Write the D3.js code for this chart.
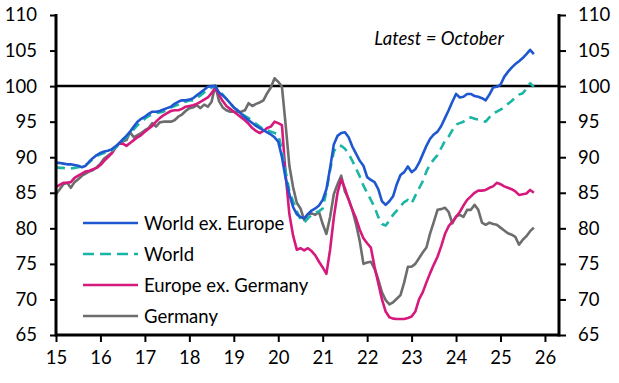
<!DOCTYPE html>
<html>
<head>
<meta charset="utf-8">
<script src="https://cdn.jsdelivr.net/npm/d3@7"></script>
<style>
  body { margin: 0; background: #fff; }
  text { font-family: Lato, "Open Sans", sans-serif; fill: #000; }
</style>
</head>
<body>
<svg id="chart" width="619" height="383"></svg>
<script>
// monthly index, Jan 2015 .. Oct 2025
var startYear = 2015;

var worldExEurope = [
  89.2, 89.2, 89.1, 89.0, 89.0, 88.9, 88.8, 88.6, 88.8, 89.4, 89.9, 90.3,
  90.6, 90.8, 90.9, 91.1, 91.5, 91.9, 92.5, 93.0, 93.6, 94.3, 95.0, 95.4,
  95.7, 96.1, 96.4, 96.4, 96.5, 96.7, 96.9, 97.1, 97.5, 97.8, 98.0, 98.0,
  98.1, 98.3, 98.7, 99.1, 99.5, 99.9, 100.0, 100.0, 99.1, 98.7, 98.2, 97.6,
  97.0, 96.6, 96.1, 95.6, 95.2, 94.8, 94.4, 94.1, 93.8, 93.5, 93.2, 92.8,
  92.2, 90.0, 87.0, 84.8, 83.0, 82.0, 81.6, 81.4, 82.0, 82.5, 82.8, 83.2,
  84.0, 85.5, 88.5, 91.8, 93.0, 93.4, 93.5, 92.8, 91.5, 90.5, 89.5, 88.8,
  87.2, 86.8, 86.5, 85.5, 83.8, 83.3, 83.8, 84.5, 86.2, 87.5, 87.9, 88.7,
  87.9, 88.3, 89.2, 90.4, 91.6, 92.6, 93.2, 93.6, 94.4, 95.5, 96.6, 97.8,
  98.9, 98.4, 98.5, 98.9, 98.9, 98.6, 98.5, 98.3, 98.0, 98.8, 99.8, 99.9,
  100.2, 101.3, 102.0, 102.6, 103.1, 103.5, 103.95, 104.5, 105.1, 104.5
];

var world = [
  88.6, 88.5, 88.5, 88.4, 88.4, 88.5, 88.6, 88.7, 88.9, 89.3, 89.8, 90.2,
  90.4, 90.6, 90.7, 90.9, 91.3, 91.8, 92.3, 92.8, 93.3, 93.9, 94.5, 95.0,
  95.4, 95.8, 96.0, 96.2, 96.3, 96.4, 96.7, 97.0, 97.2, 97.4, 97.7, 97.8,
  98.0, 98.0, 98.3, 98.7, 99.1, 99.5, 99.8, 100.0, 99.4, 98.8, 98.2, 97.6,
  97.0, 96.6, 96.2, 95.8, 95.5, 95.1, 94.7, 94.3, 94.0, 93.8, 93.6, 93.4,
  93.2, 91.0, 88.0, 85.2, 83.8, 82.4, 81.3, 80.8, 81.4, 81.9, 82.2, 82.4,
  82.8, 85.2, 88.2, 90.8, 91.6, 91.6, 91.2, 90.5, 89.5, 88.4, 87.3, 86.0,
  85.0, 84.0, 83.0, 81.6, 80.6, 80.4, 81.1, 81.9, 82.5, 83.1, 83.7, 84.0,
  83.5, 84.6, 85.6, 86.6, 88.0, 89.0, 89.7, 90.3, 91.3, 92.3, 92.9, 93.8,
  94.6, 94.8, 95.0, 95.5, 95.6, 95.4, 95.3, 95.1, 95.0, 95.6, 96.2, 96.4,
  96.7, 97.0, 97.5, 97.9, 98.4, 98.8, 99.0, 99.6, 100.4, 99.9
];

var europeExGermany = [
  85.8, 86.1, 86.4, 86.4, 86.5, 87.1, 87.4, 87.7, 88.0, 88.1, 88.3, 88.5,
  88.9, 89.5, 90.0, 90.5, 91.3, 91.9, 91.9, 91.6, 92.0, 92.4, 92.8, 93.1,
  93.6, 94.0, 94.4, 95.0, 95.5, 95.9, 96.2, 96.5, 96.6, 96.6, 96.8, 97.1,
  97.2, 97.3, 97.5, 97.8, 98.1, 98.4, 99.0, 99.8, 98.8, 97.9, 97.2, 96.8,
  96.4, 96.0, 95.6, 95.2, 94.7, 94.1, 93.7, 93.4, 93.7, 94.1, 94.3, 95.0,
  94.8, 94.5, 87.5, 82.0, 79.0, 77.0, 77.2, 76.9, 77.2, 76.8, 76.2, 75.3,
  74.5, 73.6, 77.0, 81.5, 85.0, 86.9, 85.6, 84.0, 82.6, 81.4, 79.8, 78.6,
  77.9, 77.3, 74.6, 72.3, 70.0, 68.3, 67.5, 67.3, 67.25, 67.25, 67.25, 67.4,
  67.6, 68.3, 70.0, 71.0, 72.4, 73.7, 74.9, 76.0, 77.5, 79.2, 80.3, 80.9,
  81.6, 82.3, 83.2, 84.0, 84.5, 85.0, 85.3, 85.3, 85.4, 85.7, 85.9, 86.4,
  86.2, 85.9, 85.7, 85.5, 85.2, 84.7, 84.8, 84.9, 85.4, 85.0
];

var germany = [
  84.8, 85.5, 86.2, 86.4, 85.7, 86.5, 86.9, 87.4, 87.7, 88.0, 88.2, 88.6,
  89.1, 89.8, 90.2, 90.6, 91.4, 92.0, 92.2, 92.4, 93.5, 92.8, 93.1, 93.4,
  93.8, 94.1, 94.8, 94.3, 94.9, 95.0, 95.0, 95.0, 95.2, 95.7, 96.0, 96.5,
  96.9, 97.0, 97.3, 96.9, 97.4, 97.1, 97.8, 100.1, 97.9, 97.0, 96.6, 96.4,
  96.4, 96.4, 96.4, 96.6, 97.6, 97.2, 97.5, 97.7, 98.0, 99.0, 99.8, 101.1,
  100.6, 99.9, 94.5, 88.8, 85.8, 83.6, 82.8, 81.2, 82.0, 82.1, 81.9, 82.3,
  80.6, 79.2, 81.6, 84.8, 86.2, 87.4, 85.2, 84.1, 82.6, 80.6, 78.2, 75.0,
  75.2, 75.3, 74.3, 72.8, 71.0, 69.9, 69.3, 69.6, 70.1, 70.6, 72.4, 74.6,
  74.6, 75.0, 75.8, 76.6, 77.3, 79.3, 80.9, 82.6, 82.7, 82.9, 82.3, 80.7,
  81.7, 81.9, 81.6, 82.6, 82.6, 83.3, 82.6, 80.8, 80.5, 80.8, 80.6, 80.5,
  80.1, 79.7, 79.3, 79.1, 78.8, 77.7, 78.4, 78.9, 79.6, 80.1
];

var seriesNames = ["World ex. Europe", "World", "Europe ex. Germany", "Germany"];
var seriesColors = ["#1f57d1", "#1bb5a6", "#d6197c", "#6d6d6d"];
var seriesDash = [null, "9,6", null, null];
var seriesData = [worldExEurope, world, europeExGermany, germany];

var yTicks = [65, 70, 75, 80, 85, 90, 95, 100, 105, 110];
var xTicks = [2015, 2016, 2017, 2018, 2019, 2020, 2021, 2022, 2023, 2024, 2025, 2026];
var note = "Latest = October";

var svg = d3.select("#chart");
var plotLeft = 56, plotRight = 559, plotTop = 15, plotBottom = 335;
var fontSize = 18.5;

var x = d3.scaleLinear().domain([2015, 2026.316]).range([plotLeft, plotRight]);
var y = d3.scaleLinear().domain([65, 110]).range([plotBottom, plotTop]);

var line = d3.line()
  .x(function(d, i) { return x(startYear + i / 12); })
  .y(function(d) { return y(d); });

// 100 reference line
svg.append("line")
  .attr("x1", plotLeft).attr("x2", plotRight)
  .attr("y1", y(100)).attr("y2", y(100))
  .attr("stroke", "#000").attr("stroke-width", 2.5);

// series, drawn back to front
[3, 2, 1, 0].forEach(function(k) {
  svg.append("path")
    .datum(seriesData[k])
    .attr("d", line)
    .attr("fill", "none")
    .attr("stroke", seriesColors[k])
    .attr("stroke-width", 2.6)
    .attr("stroke-linejoin", "round")
    .attr("stroke-dasharray", seriesDash[k]);
});

// axes
var yLeft = d3.axisLeft(y).tickValues(yTicks).tickSize(6).tickPadding(13);
var yRight = d3.axisRight(y).tickValues(yTicks).tickSize(7).tickPadding(12);
var xAxis = d3.axisBottom(x).tickValues(xTicks).tickSize(7).tickPadding(9)
  .tickFormat(function(d) { return String(d).slice(2); });

function styleAxis(g) {
  g.select(".domain").remove();
  g.selectAll(".tick line").attr("stroke", "#000").attr("stroke-width", 2);
  g.selectAll(".tick text").attr("font-size", fontSize).attr("fill", "#000")
    .style("font-family", "Lato, 'Open Sans', sans-serif");
}

svg.append("g").attr("transform", "translate(" + plotLeft + ",0)").call(yLeft).call(styleAxis);
svg.append("g").attr("transform", "translate(" + plotRight + ",0)").call(yRight).call(styleAxis);
svg.append("g").attr("transform", "translate(0," + plotBottom + ")").call(xAxis).call(styleAxis);

// frame lines
[plotLeft, plotRight].forEach(function(px) {
  svg.append("line").attr("x1", px).attr("x2", px)
    .attr("y1", plotTop - 1).attr("y2", plotBottom + 1.5)
    .attr("stroke", "#000").attr("stroke-width", 3);
});
svg.append("line").attr("x1", plotLeft).attr("x2", plotRight)
  .attr("y1", plotBottom).attr("y2", plotBottom)
  .attr("stroke", "#000").attr("stroke-width", 3);

// legend
var legend = svg.append("g").attr("transform", "translate(83,223)");
seriesNames.forEach(function(name, i) {
  var row = legend.append("g").attr("transform", "translate(0," + (i * 31) + ")");
  row.append("line")
    .attr("x1", 0).attr("x2", 55).attr("y1", 0).attr("y2", 0)
    .attr("stroke", seriesColors[i]).attr("stroke-width", 2.6)
    .attr("stroke-dasharray", seriesDash[i] ? "11,6" : null);
  row.append("text")
    .attr("x", 61).attr("y", 6.5)
    .attr("font-size", fontSize)
    .text(name);
});

// note
svg.append("text")
  .attr("x", 439).attr("y", 45)
  .attr("text-anchor", "middle")
  .attr("font-size", fontSize)
  .attr("font-style", "italic")
  .text(note);
</script>
</body>
</html>
